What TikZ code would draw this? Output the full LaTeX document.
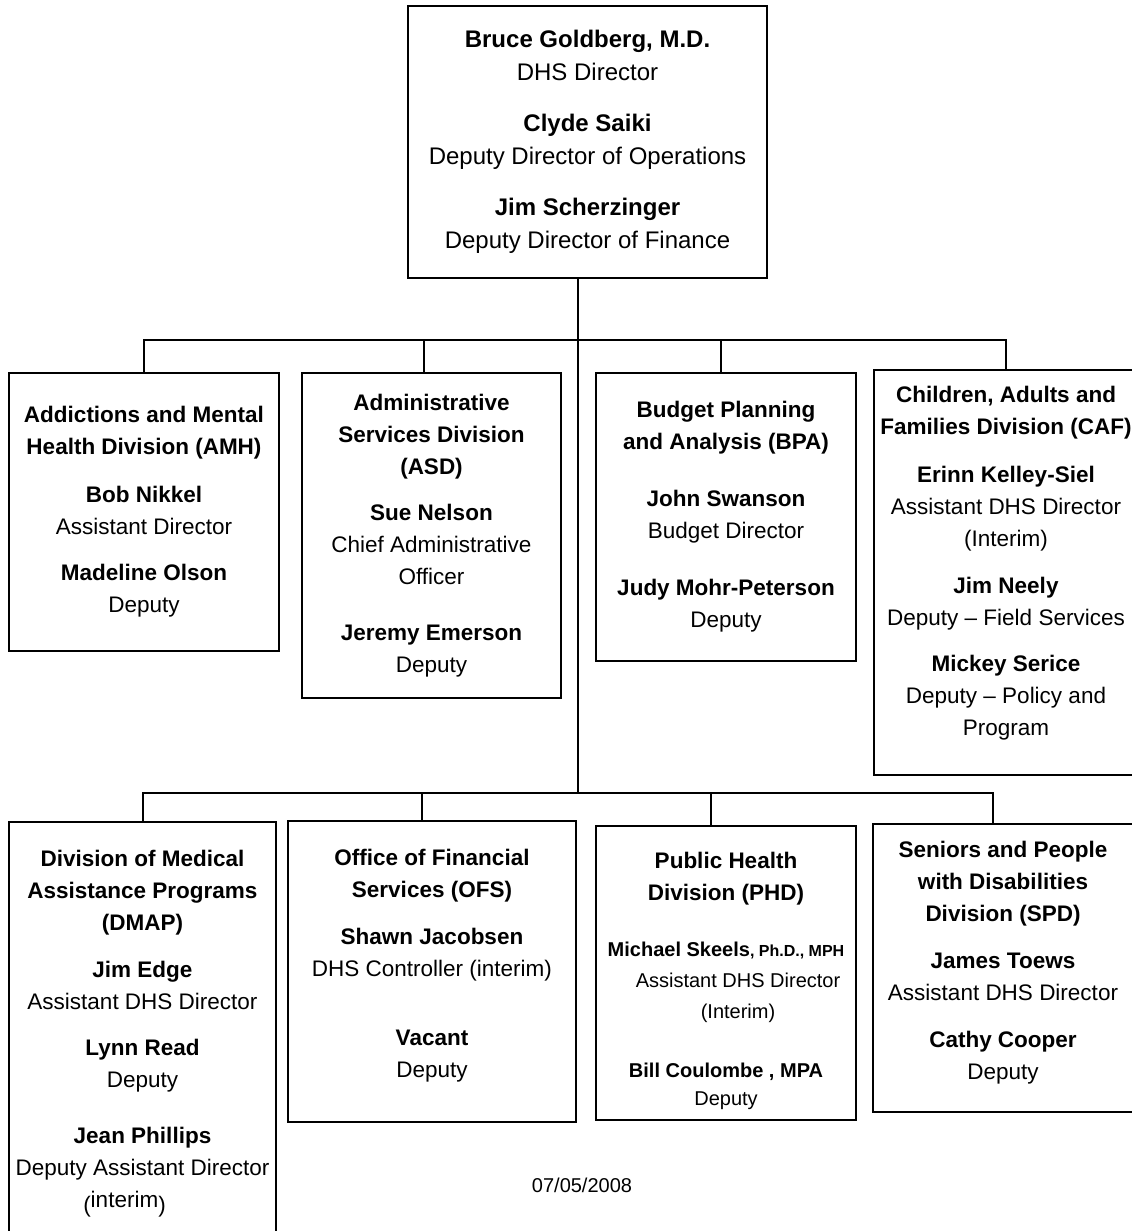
\documentclass[tikz,border=0pt]{standalone}
\usepackage{fontspec}
\setmainfont{Liberation Sans}
\usetikzlibrary{positioning}
\tikzstyle{unit} = [rectangle, draw=black, line width=1pt, align=center, inner sep=0pt, font=\fontsize{11.25}{16}\selectfont]
\tikzstyle{link} = [line width=1pt]
\newcommand{\phdsz}{\fontsize{10}{12}\selectfont}
\newcommand{\degsz}{\fontsize{8}{10}\selectfont}

\begin{document}
\begin{tikzpicture}[x=0.5pt, y=-0.5pt]
\useasboundingbox (0,0) rectangle (1131,1231);

% director's office
\node (dhs) [unit, font=\fontsize{12}{16.5}\selectfont, minimum width=179.5pt, minimum height=136pt] at (587.5,142) {\textbf{Bruce Goldberg, M.D.}\\ DHS Director\\[9pt] \textbf{Clyde Saiki}\\ Deputy Director of Operations\\[9pt] \textbf{Jim Scherzinger}\\ Deputy Director of Finance};

% first row
\node (amh) [unit, minimum width=135pt, minimum height=139pt] at (144,512) {\textbf{Addictions and Mental}\\ \textbf{Health Division (AMH)}\\[8pt] \textbf{Bob Nikkel}\\ Assistant Director\\[7pt] \textbf{Madeline Olson}\\ Deputy};
\node (asd) [unit, minimum width=129.5pt, minimum height=162.5pt] at (431.5,535.5) {\textbf{Administrative}\\ \textbf{Services Division}\\ \textbf{(ASD)}\\[7pt] \textbf{Sue Nelson}\\ Chief Administrative\\ Officer\\[12pt] \textbf{Jeremy Emerson}\\ Deputy};
\node (bpa) [unit, minimum width=130pt, minimum height=144pt] at (726,517) {\textbf{Budget Planning}\\ \textbf{and Analysis (BPA)}\\[12.5pt] \textbf{John Swanson}\\ Budget Director\\[12.5pt] \textbf{Judy Mohr-Peterson}\\ Deputy};
\node (caf) [unit, minimum width=132pt, minimum height=202.5pt] at (1006,572.5) {\textbf{Children, Adults and}\\ \textbf{Families Division (CAF)}\\[8pt] \textbf{Erinn Kelley-Siel}\\ Assistant DHS Director\\ (Interim)\\[7.5pt] \textbf{Jim Neely}\\ Deputy – Field Services\\[7pt] \textbf{Mickey Serice}\\ Deputy – Policy and\\ Program\rule[-11.5pt]{0pt}{11.5pt}};

% second row
\node (dmap) [unit, minimum width=133.5pt, minimum height=212pt] at (142.5,1034) {\textbf{Division of Medical}\\ \textbf{Assistance Programs}\\ \textbf{(DMAP)}\\[7.5pt] \textbf{Jim Edge}\\ Assistant DHS Director\\[7pt] \textbf{Lynn Read}\\ Deputy\\[12pt] \textbf{Jean Phillips}\\ Deputy Assistant Director\\ \raisebox{-2.5pt}{(}interim\raisebox{-2.5pt}{)}\hspace*{18pt}};
\node (ofs) [unit, minimum width=144pt, minimum height=150.5pt] at (432,971.5) {\textbf{Office of Financial}\\ \textbf{Services (OFS)}\\[7.5pt] \textbf{Shawn Jacobsen}\\ DHS Controller (interim)\\[18.5pt] \textbf{Vacant}\\ Deputy\rule[-8.5pt]{0pt}{8.5pt}};
\node (phd) [unit, minimum width=130pt, minimum height=147pt] at (726,973) {\rule{0pt}{16pt}\textbf{Public Health}\\ \textbf{Division (PHD)}\\[12pt] {\phdsz\textbf{Michael Skeels}\degsz\textbf{, Ph.D., MPH}}\\[-0.5pt] {\phdsz\hspace*{12pt}Assistant DHS Director}\\[-0.5pt] {\phdsz\hspace*{12pt}(Interim)}\\[13.5pt] {\phdsz\textbf{Bill Coulombe , MPA}}\\[-2pt] {\phdsz Deputy}};
\node (spd) [unit, minimum width=130pt, minimum height=144pt] at (1003,968) {\textbf{Seniors and People}\\ \textbf{with Disabilities}\\ \textbf{Division (SPD)}\\[7.5pt] \textbf{James Toews}\\ Assistant DHS Director\\[7.5pt] \textbf{Cathy Cooper}\\ Deputy\rule[-7.5pt]{0pt}{7.5pt}};

\node (stamp) [font=\fontsize{10}{12}\selectfont] at (582,1185) {07/05/2008};

% lines
\coordinate (bus1) at (578,340);
\coordinate (bus2) at (578,793);
\draw [link] (dhs.south -| bus1) -- (bus2);
\draw [link] (amh.north) |- (bus1) -| (caf.north);
\draw [link] ([xshift=-3.75pt]asd.north) -- ([xshift=-3.75pt]asd.north |- bus1);
\draw [link] ([xshift=-2.5pt]bpa.north) -- ([xshift=-2.5pt]bpa.north |- bus1);
\draw [link] (dmap.north) |- (bus2) -| ([xshift=-5pt]spd.north);
\draw [link] ([xshift=-5pt]ofs.north) -- ([xshift=-5pt]ofs.north |- bus2);
\draw [link] ([xshift=-7.5pt]phd.north) -- ([xshift=-7.5pt]phd.north |- bus2);

\end{tikzpicture}
\end{document}
